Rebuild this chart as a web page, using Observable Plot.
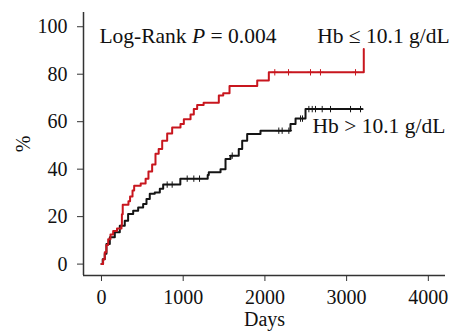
<!DOCTYPE html>
<html>
<head>
<meta charset="utf-8">
<script src="https://cdn.jsdelivr.net/npm/d3@7"></script>
<script src="https://cdn.jsdelivr.net/npm/@observablehq/plot@0.6"></script>
<style>
  html, body { margin: 0; padding: 0; background: #fff; }
  #chart { width: 450px; height: 331px; overflow: hidden; }
</style>
</head>
<body>
<div id="chart"></div>
<script>
// Hb <= 10.1 g/dL (red)
const lowDays = [0, 20, 40, 60, 82, 110, 143, 190, 245, 250, 260, 330, 350, 380, 400, 480, 540, 575, 620, 661, 700, 743, 804, 865, 967, 1008, 1090, 1130, 1171, 1250, 1436, 1490, 1567, 1906, 2048, 3210, 3210];
const lowPct  = [0, 2, 5, 8, 10.5, 12.5, 14, 15, 16.5, 21, 25, 26.5, 28.5, 31, 33, 34, 36, 39, 42, 46.5, 48.5, 52, 55, 57.5, 59, 61, 63, 65.3, 67, 68, 71, 72, 75, 77.3, 80.8, 80.8, 90.6];
const lowCensorDays = [2121, 2289, 2558, 2680, 3109];
const lowCensorPct  = [80.8, 80.8, 80.8, 80.8, 80.8];

// Hb > 10.1 g/dL (black)
const highDays = [0, 15, 40, 61, 102, 163, 224, 285, 326, 388, 449, 510, 551, 591, 652, 714, 755, 965, 1300, 1313, 1457, 1518, 1579, 1680, 1722, 1783, 1946, 2313, 2375, 2497, 3190];
const highPct  = [0, 2, 4.4, 8.5, 11.3, 13.4, 16.2, 18.3, 21.1, 22.5, 23.9, 25.3, 27.4, 29.6, 30.2, 31.7, 33.5, 36, 37.5, 38.7, 40, 44.3, 45.7, 48.5, 52, 54.8, 56.2, 59, 61.3, 65.3, 65.3];
const highCensorDays = [804, 865, 1049, 1130, 1200, 1600, 2170, 2211, 2293, 2436, 2460, 2538, 2579, 2619, 2701, 2803, 3048, 3170];
const highCensorPct  = [33.5, 33.5, 36, 36, 36, 45.7, 56.2, 56.2, 56.2, 61.3, 61.3, 65.3, 65.3, 65.3, 65.3, 65.3, 65.3, 65.3];

const xTicks = [0, 1000, 2000, 3000, 4000];
const yTicks = [0, 20, 40, 60, 80, 100];
const xDomain = [-220, 4210];
const yDomain = [-4.8, 106];

const pValueText = "Log-Rank P = 0.004";
const lowLabel = "Hb \u2264 10.1 g/dL";
const highLabel = "Hb > 10.1 g/dL";

const low = lowDays.map((d, i) => ({day: d, pct: lowPct[i]}));
const high = highDays.map((d, i) => ({day: d, pct: highPct[i]}));
const lowC = lowCensorDays.map((d, i) => ({day: d, pct: lowCensorPct[i]}));
const highC = highCensorDays.map((d, i) => ({day: d, pct: highCensorPct[i]}));

const RED = "#c8161e";
const BLACK = "#141414";
const AXIS = "#333";

const chart = Plot.plot({
  width: 450,
  height: 331,
  marginLeft: 83,
  marginRight: 5,
  marginTop: 12,
  marginBottom: 56,
  x: {domain: xDomain},
  y: {domain: yDomain},
  style: {fontFamily: "'Liberation Serif', 'Times New Roman', serif", fontSize: "20px", color: "#111", background: "#fff"},
  marks: [
    Plot.ruleX([xDomain[0]], {stroke: AXIS, strokeWidth: 1.5}),
    Plot.ruleY([yDomain[0]], {stroke: AXIS, strokeWidth: 1.5}),
    Plot.axisY({ticks: yTicks, tickSize: 6, tickPadding: 10, label: null, fontSize: 20, stroke: AXIS}),
    Plot.axisX({ticks: xTicks, tickSize: 6, tickPadding: 8, label: null, fontSize: 20, tickFormat: "d", stroke: AXIS}),
    Plot.line(high, {x: "day", y: "pct", curve: "step-after", stroke: BLACK, strokeWidth: 2}),
    Plot.line(low, {x: "day", y: "pct", curve: "step-after", stroke: RED, strokeWidth: 2}),
    Plot.dot(highC, {x: "day", y: "pct", symbol: "plus", r: 2.2, stroke: BLACK, strokeWidth: 1}),
    Plot.dot(lowC, {x: "day", y: "pct", symbol: "plus", r: 2.2, stroke: RED, strokeWidth: 1}),
    Plot.text([pValueText], {x: -25, y: 96, text: d => d, textAnchor: "start", fontSize: 21.5, fill: "#111"}),
    Plot.text([lowLabel], {x: 2640, y: 96, text: d => d, textAnchor: "start", fontSize: 21.5, fill: "#111"}),
    Plot.text([highLabel], {x: 2583, y: 58.2, text: d => d, textAnchor: "start", fontSize: 21.5, fill: "#111"}),
    Plot.text(["%"], {frameAnchor: "left", rotate: -90, textAnchor: "middle", lineAnchor: "middle", dx: -60, fontSize: 20, fill: "#111"}),
    Plot.text(["Days"], {frameAnchor: "bottom", textAnchor: "middle", lineAnchor: "middle", dy: 44, fontSize: 20, fill: "#111"})
  ]
});

document.getElementById("chart").appendChild(chart);

// italic P in the log-rank annotation
d3.select(chart).selectAll("text").each(function() {
  if (this.textContent === pValueText) {
    const sel = d3.select(this);
    sel.text(null);
    sel.append("tspan").text("Log-Rank ");
    sel.append("tspan").attr("font-style", "italic").text("P");
    sel.append("tspan").text(" = 0.004");
  }
});
</script>
</body>
</html>
